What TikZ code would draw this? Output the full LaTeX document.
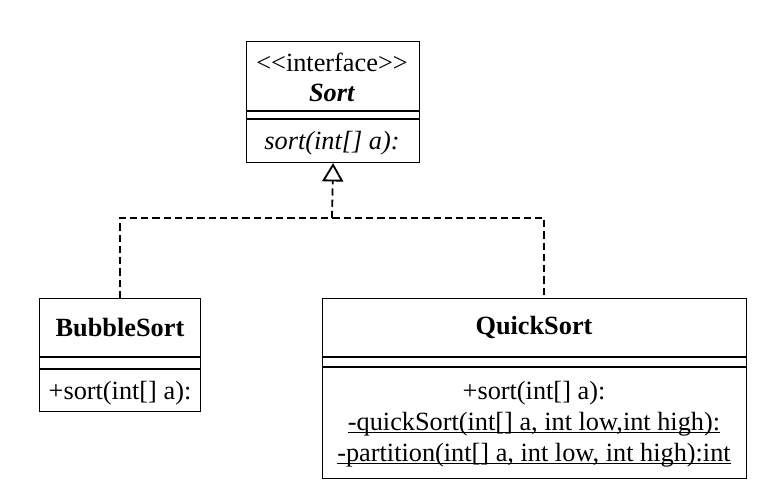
\documentclass[tikz,border=0pt]{standalone}
\usepackage{fontspec}
\setmainfont{Liberation Serif}
\usetikzlibrary{arrows.meta, positioning}

\newcommand{\opline}[1]{\underline{\smash{#1}}}

\begin{document}
\begin{tikzpicture}[x=0.025cm, y=-0.025cm, every node/.style={font=\fontsize{18.7}{22}\selectfont}]
    \tikzstyle{cls}=[rectangle, draw, line width=0.8pt, inner sep=0pt, anchor=north west]
    \tikzstyle{sep}=[line width=0.8pt]
    \tikzstyle{realize}=[-{Triangle[open, width=15pt, length=13pt]}, dashed, dash pattern=on 5pt off 3pt, line width=1.3pt]

    \useasboundingbox (0,0) rectangle (759,494);

    % classes
    \node[cls, minimum width=4.325cm, minimum height=3.025cm] (sort) at (246,41) {};
    \node[cls, minimum width=4.025cm, minimum height=2.825cm] (bubble) at (39,298) {};
    \node[cls, minimum width=10.6cm, minimum height=4.5cm] (quick) at (322,298) {};

    % compartments
    \draw[sep] (sort.west |- 0,111) -- (sort.east |- 0,111);
    \draw[sep] (sort.west |- 0,119) -- (sort.east |- 0,119);
    \draw[sep, line width=1.4pt] (bubble.west |- 0,357) -- (bubble.east |- 0,357);
    \draw[sep, line width=1.4pt] (bubble.west |- 0,369) -- (bubble.east |- 0,369);
    \draw[sep] (quick.west |- 0,357) -- (quick.east |- 0,357);
    \draw[sep] (quick.west |- 0,367) -- (quick.east |- 0,367);

    % texts
    \node (stereo) at (332,62) {{<}{<}interface{>}{>}};
    \node (sortname) at (332,93) {\textbf{\textit{Sort}}};
    \node (sortop) at (332,143) {\textit{sort(int[] a):}};
    \node (bubblename) at (120,328) {\textbf{BubbleSort}};
    \node (bubbleop) at (120,393) {+sort(int[] a):};
    \node (quickname) at (534,328) {\textbf{QuickSort}};
    \node (quickop1) at (534,393) {+sort(int[] a):};
    \node[anchor=base] (quickop2) at (534,430) {\opline{-quickSort(int[] a, int low,int high):}};
    \node[anchor=base] (quickop3) at (534,461) {\opline{-partition(int[] a, int low, int high):int}};

    % realization
    \coordinate (bus) at (332,218);
    \coordinate (busl) at (120,218);
    \coordinate (busr) at (544,218);
    \draw[realize] (bus) -- (sort.south);
    \draw[sep, dashed, dash pattern=on 5pt off 3pt, line width=1.3pt] (bubble.north -| busl) -- (busl) -- (busr) -- (quick.north -| busr);
\end{tikzpicture}
\end{document}
